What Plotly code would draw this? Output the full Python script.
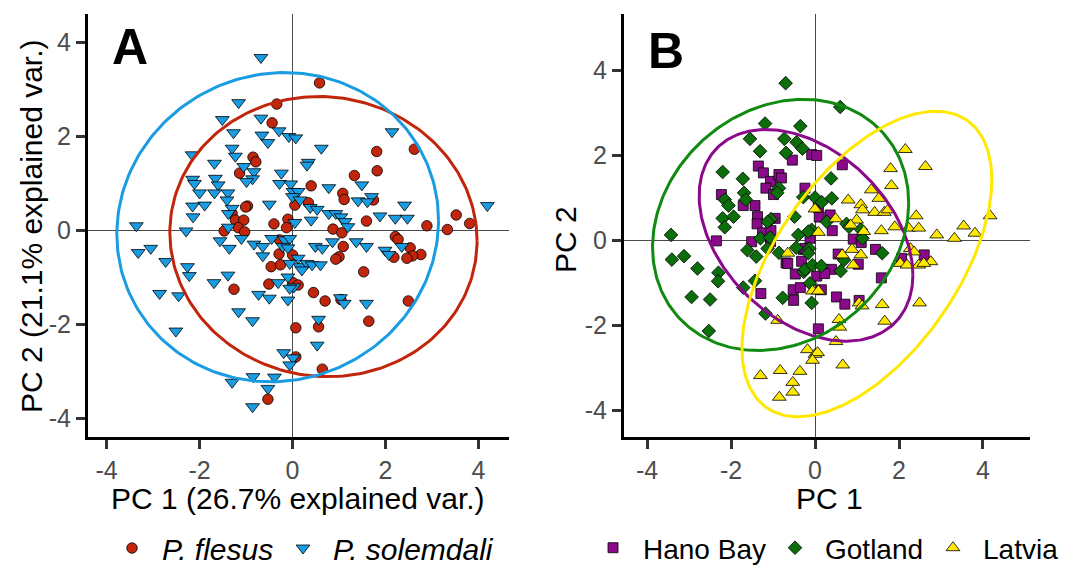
import numpy as np
import plotly.graph_objects as go

# ---------------- data ----------------
# Panel A : PCA scores by species
flesus = [(0.58,3.13),(-0.34,2.68),(-0.44,2.28),(1.81,1.67),(2.62,1.72),(1.82,1.26),(1.33,1.16),
          (-0.85,1.55),(-0.79,1.45),(-1.14,1.21),(0.40,0.94),(1.08,0.78),(1.11,0.65),(1.74,0.64),
          (0.34,0.58),(0.05,0.53),(-0.97,0.51),(-1.01,0.49),(-1.30,0.35),(-1.23,0.21),(-1.05,0.21),
          (-0.10,0.23),(-0.40,0.13),(-0.13,0.05),(-1.17,0.05),(-1.03,-0.04),(-1.47,-0.02),(0.87,0.02),
          (1.06,-0.06),(1.59,0.19),(2.89,0.09),(3.33,0.01),(3.52,0.32),(3.81,0.14),(-0.28,-0.21),
          (2.21,-0.14),(2.27,-0.20),(1.09,-0.35),(2.53,-0.38),(2.76,-0.52),(2.58,-0.55),(2.46,-0.60),
          (2.18,-0.58),(1.00,-0.57),(0.93,-0.62),(-0.29,-0.51),(0.00,-0.53),(-0.46,-0.78),(-0.26,-0.74),
          (1.53,-0.89),(-1.26,-1.26),(-0.51,-1.15),(0.01,-1.12),(0.12,-1.17),(0.45,-1.33),(0.70,-1.51),
          (1.04,-1.48),(2.49,-1.51),(1.64,-1.94),(0.07,-2.08),(0.56,-2.06),(0.07,-2.70),(0.64,-2.96),
          (-0.53,-3.60)]
solemdali = [(-0.68,3.67),(-1.16,2.71),(-1.51,2.35),(-0.68,2.38),(-1.27,2.07),(-0.66,2.02),(-0.29,2.11),
             (-0.08,1.99),(0.07,1.96),(-0.53,1.86),(2.14,2.09),(0.62,1.74),(-1.30,1.74),(-1.23,1.57),
             (-2.16,1.60),(0.34,1.44),(0.31,1.38),(-1.68,1.42),(-1.05,1.35),(-0.83,1.24),(-0.24,1.21),
             (-1.66,1.10),(-2.15,1.08),(-2.11,0.99),(-0.86,1.09),(-0.99,1.03),(-0.28,0.99),(-0.04,0.98),
             (-1.60,0.96),(-2.00,0.79),(-1.68,0.79),(-1.39,0.79),(0.78,0.90),(1.49,0.96),(0.01,0.82),
             (0.12,0.82),(0.00,0.71),(0.16,0.64),(-1.41,0.64),(1.70,0.71),(1.41,0.62),(1.61,0.60),
             (-1.89,0.53),(-2.15,0.51),(-0.50,0.55),(-1.30,0.46),(0.38,0.48),(0.53,0.44),(2.41,0.53),
             (4.19,0.52),(-2.14,0.28),(-1.38,0.35),(0.78,0.35),(0.93,0.35),(1.04,0.28),(1.88,0.30),
             (2.21,0.25),(2.47,0.25),(1.13,0.18),(0.40,0.21),(0.05,0.16),(1.19,0.07),(-3.36,0.09),
             (-2.29,-0.02),(-1.38,0.06),(-3.32,-0.48),(-3.05,-0.39),(-2.73,-0.67),(-1.56,-0.23),
             (-1.36,-0.39),(-1.10,-0.18),(-0.83,-0.30),(-0.64,-0.35),(-0.45,-0.18),(-0.17,-0.21),
             (-0.06,-0.18),(-0.21,-0.35),(-0.10,-0.38),(-0.64,-0.55),(0.49,-0.35),(0.64,-0.39),
             (0.86,-0.25),(1.37,-0.25),(1.59,-0.35),(1.99,-0.43),(2.07,-0.52),(2.35,-0.35),(0.12,-0.60),
             (0.16,-0.78),(0.31,-0.71),(0.42,-0.74),(0.60,-0.74),(-0.06,-0.71),(-2.26,-0.78),(-2.22,-0.97),
             (-1.39,-0.96),(-0.10,-1.00),(-1.69,-1.12),(-2.86,-1.35),(-2.45,-1.40),(-0.73,-1.37),
             (-0.50,-1.45),(-0.31,-1.12),(0.03,-1.21),(-0.06,-1.24),(-0.10,-1.49),(0.20,-0.85),
             (-1.16,-1.74),(-0.86,-1.93),(-2.51,-2.15),(0.56,-1.90),(0.53,-2.45),(1.03,-1.44),(1.11,-1.56),
             (1.59,-1.56),(-0.19,-2.61),(0.01,-2.72),(-0.06,-2.87),(-1.30,-3.24),(-0.85,-3.12),
             (-0.39,-3.13),(-0.53,-3.37),(-0.86,-3.76)]

# Panel B : PCA scores by location
hano_bay = [(-0.54,1.88),(-0.08,2.01),(0.04,1.99),(-1.35,1.74),(-1.23,1.58),(-1.06,1.38),(-0.86,1.54),
            (-0.80,1.46),(-1.17,1.22),(-0.99,1.07),(-0.24,1.22),(-2.23,1.07),(-1.71,0.81),(-1.43,0.81),
            (0.65,1.77),(-1.37,0.55),(-1.38,0.38),(-1.25,0.17),(-1.05,0.22),(-1.06,-0.04),(-0.95,0.51),
            (-1.51,-0.04),(-2.35,-0.02),(-0.69,-0.54),(-0.32,-0.50),(-0.28,-0.22),(-0.47,-0.80),
            (-0.52,-1.17),(-0.35,-1.12),(-0.51,-1.42),(-1.29,-1.26),(0.04,-0.85),(-0.12,0.04),(0.08,0.77),
            (0.10,0.54),(0.36,0.59),(0.41,0.22),(0.91,0.02),(1.10,-0.06),(1.44,-0.22),(2.60,-0.35),
            (2.06,-0.43),(1.03,-0.57),(0.55,-0.33),(0.39,-0.69),(0.23,-0.79),(1.58,-0.89),(0.51,-1.34),
            (0.71,-1.51),(1.05,-1.42),(0.15,-1.17),(-0.65,-0.55),(0.08,-2.09),(-0.24,-0.20)]
gotland = [(-0.70,3.69),(-1.19,2.74),(-0.35,2.68),(-1.55,2.38),(-0.73,2.38),(-0.44,2.30),(-0.30,2.15),
           (-1.31,2.09),(-0.69,2.05),(-2.20,1.60),(-1.72,1.44),(-0.86,1.22),(-0.90,1.11),(-1.69,1.11),
           (-2.15,0.95),(-2.06,0.81),(-1.65,0.95),(-0.28,1.01),(0.60,3.13),(0.38,1.45),(0.40,0.98),
           (0.00,1.00),(0.16,0.89),(-0.49,0.55),(-0.08,0.24),(0.28,0.43),(0.75,0.38),(0.81,0.31),
           (1.09,0.25),(1.13,0.04),(1.60,-0.31),(-0.40,0.12),(-3.43,0.12),(-3.41,-0.46),(-3.12,-0.38),
           (-2.80,-0.67),(-2.94,-1.34),(-2.50,-1.40),(-2.30,-0.77),(-2.31,-0.97),(-2.20,0.51),(-2.15,0.30),
           (-1.94,0.55),(-1.61,-0.24),(-1.40,-0.39),(-1.43,-0.96),(-1.71,-1.12),(-1.05,0.49),(-0.86,-0.30),
           (-0.77,-1.36),(-0.16,0.20),(-0.14,-0.20),(-0.27,-0.75),(-0.12,-1.02),(-1.30,0.04),(-1.07,0.06),
           (-1.13,-0.20),(-1.13,0.43),(-2.53,-2.14),(-1.18,-1.73),(-0.08,-1.48),(-0.24,-0.69),(0.61,-0.73),
           (-0.06,-0.59),(-0.16,-0.31),(0.15,-0.61),(0.69,-0.47),(-0.45,-0.18)]
latvia = [(2.15,2.13),(2.63,1.73),(1.80,1.68),(1.82,1.28),(1.34,1.18),(1.52,0.98),(0.79,0.94),(1.09,0.83),
          (1.13,0.71),(1.42,0.65),(1.65,0.65),(1.74,0.71),(2.41,0.57),(1.90,0.31),(2.23,0.28),(2.47,0.28),
          (1.58,0.22),(2.90,0.12),(3.32,0.04),(3.54,0.33),(3.81,0.16),(4.17,0.57),(0.49,0.50),(0.99,0.47),
          (0.85,0.35),(1.16,0.20),(0.08,0.18),(0.00,0.73),(-0.65,-0.31),(0.65,-0.35),(1.09,-0.35),
          (0.88,-0.22),(0.91,-0.59),(2.27,-0.20),(2.36,-0.28),(2.03,-0.55),(2.19,-0.59),(2.47,-0.59),
          (2.76,-0.51),(2.59,-0.55),(-0.89,-1.89),(-0.06,-1.20),(0.08,-1.20),(1.05,-1.48),(1.12,-1.55),
          (1.60,-1.52),(2.49,-1.48),(1.66,-1.91),(0.57,-1.87),(0.59,-2.05),(0.50,-2.39),(-0.18,-2.58),
          (0.00,-2.69),(0.06,-2.65),(-0.06,-2.83),(0.66,-2.94),(-1.30,-3.19),(-0.83,-3.07),(-0.36,-3.09),
          (-0.53,-3.35),(-0.53,-3.58),(-0.85,-3.70)]

# 68% normal data ellipses: centre and (var_x, var_y, cov_xy)
ellipse_centers = {"flesus": (0.665, -0.14), "solemdali": (-0.32, 0.06),
                   "hano": (-0.215, 0.11), "gotland": (-0.82, 0.355), "latvia": (1.235, -0.565)}
ellipse_covs = {"flesus": (10.92, 8.88, -0.3), "solemdali": (11.97, 10.82, 0.5),
                "hano": (6.48, 6.20, -2.37), "gotland": (9.30, 8.73, 1.6), "latvia": (8.85, 12.92, 5.9)}

tick_vals = [-4, -2, 0, 2, 4]
tick_text = ["-4", "-2", "0", "2", "4"]

# ---------------- styling ----------------
# the page body keeps its default 8px margin, so the figure is drawn 8px in from the
# window's top-left corner; screen pixel p maps to figure pixel p - OFF
OFF = 8
W, H = 1078 - OFF, 568 - OFF
FONT = "Liberation Sans, Arial, sans-serif"
RED, BLUE = "#C1260C", "#1A9CE3"
PURPLE, GREEN, YELLOW = "#8B0A8B", "#0B6E0B", "#FFE800"
ELL_GREEN = "#108A10"


def fx(p):
    return (p - OFF) / W


def fy(p):
    return 1 - (p - OFF) / H


def unzip(pts):
    return [p[0] for p in pts], [p[1] for p in pts]


def ellipse(key):
    cx, cy = ellipse_centers[key]
    vx, vy, cxy = ellipse_covs[key]
    L = np.linalg.cholesky(np.array([[vx, cxy], [cxy, vy]]))
    t = np.linspace(0, 2 * np.pi, 241)
    pts = L @ np.vstack([np.cos(t), np.sin(t)])
    return cx + pts[0], cy + pts[1]


fig = go.Figure()


def add_points(pts, name, symbol, color, size, xa, ya, legend):
    x, y = unzip(pts)
    fig.add_trace(go.Scatter(x=x, y=y, mode="markers", name=name, xaxis=xa, yaxis=ya, legend=legend,
                             marker=dict(symbol=symbol, color=color, size=size,
                                         line=dict(color="black", width=0.8))))


def add_ellipse(key, color, xa, ya):
    ex, ey = ellipse(key)
    fig.add_trace(go.Scatter(x=ex, y=ey, mode="lines", showlegend=False, hoverinfo="skip",
                             xaxis=xa, yaxis=ya, line=dict(color=color, width=3)))


# Panel A
add_points(flesus, "<i>P. flesus</i>", "circle", RED, 10.5, "x", "y", "legend")
add_points(solemdali, "<i>P. solemdali</i>", "triangle-down", BLUE, 12, "x", "y", "legend2")
add_ellipse("flesus", RED, "x", "y")
add_ellipse("solemdali", BLUE, "x", "y")

# Panel B
add_points(hano_bay, "Hano Bay", "square", PURPLE, 10, "x2", "y2", "legend3")
add_points(gotland, "Gotland", "diamond", GREEN, 10.5, "x2", "y2", "legend4")
add_points(latvia, "Latvia", "triangle-up", YELLOW, 12, "x2", "y2", "legend5")
add_ellipse("hano", PURPLE, "x2", "y2")
add_ellipse("gotland", ELL_GREEN, "x2", "y2")
add_ellipse("latvia", YELLOW, "x2", "y2")

axis_common = dict(showgrid=False, zeroline=True, zerolinecolor="#4A4A4A", zerolinewidth=1,
                   showline=True, linecolor="black", linewidth=3, ticks="outside", ticklen=9,
                   tickwidth=3, tickcolor="#333333", tickmode="array", tickvals=tick_vals,
                   ticktext=tick_text, automargin=False,
                   tickfont=dict(family=FONT, size=25, color="#4D4D4D"))

ITEM_W = 50  # symbol area width -> text starts ~30px right of the symbol centre


def legend_at(symbol_center_px, size):
    return dict(orientation="h", x=fx(symbol_center_px - ITEM_W / 2 - 5), y=fy(548),
                xanchor="left", yanchor="middle", itemwidth=ITEM_W,
                font=dict(family=FONT, size=size, color="black"),
                bgcolor="rgba(0,0,0,0)", borderwidth=0)


ydom = [fy(437), fy(14)]
fig.update_layout(
    width=W, height=H, margin=dict(l=0, r=0, t=0, b=0, pad=0, autoexpand=False),
    paper_bgcolor="white", plot_bgcolor="white",
    font=dict(family=FONT, color="black"),
    xaxis=dict(axis_common, domain=[fx(88), fx(509)], range=[-4.40, 4.656], anchor="y"),
    yaxis=dict(axis_common, domain=ydom, range=[-4.404, 4.596], anchor="x"),
    xaxis2=dict(axis_common, domain=[fx(624), fx(1030)], range=[-4.55, 5.12], anchor="y2"),
    yaxis2=dict(axis_common, domain=ydom, range=[-4.635, 5.318], anchor="x2"),
    legend=legend_at(132, 30), legend2=legend_at(303, 30),
    legend3=legend_at(613, 28), legend4=legend_at(795, 28), legend5=legend_at(953, 28),
    showlegend=True,
)

ann = [
    dict(text="<b>A</b>", x=fx(130), y=fy(47), font=dict(size=50)),
    dict(text="<b>B</b>", x=fx(666), y=fy(51), font=dict(size=50)),
    dict(text="PC 1 (26.7% explained var.)", x=fx(298), y=fy(498), font=dict(size=30)),
    dict(text="PC 2 (21.1% explained var.)", x=fx(32), y=fy(226), font=dict(size=30), textangle=-90),
    dict(text="PC 1", x=fx(829), y=fy(498), font=dict(size=30)),
    dict(text="PC 2", x=fx(565), y=fy(240), font=dict(size=30), textangle=-90),
]
for a in ann:
    a.update(xref="paper", yref="paper", showarrow=False, xanchor="center", yanchor="middle")
    a["font"].update(family=FONT, color="black")
    fig.add_annotation(**a)

fig.write_html("out.html")
